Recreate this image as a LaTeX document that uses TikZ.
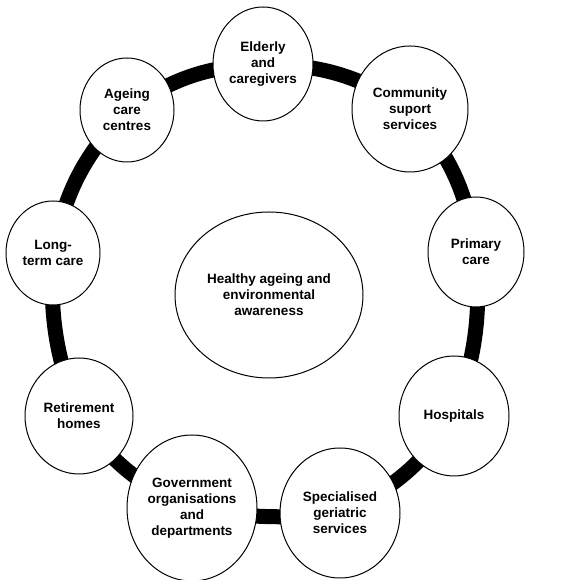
\documentclass[tikz,border=0pt]{standalone}
\usepackage{fontspec}
\setmainfont{Liberation Sans}
\usetikzlibrary{shapes.geometric,backgrounds}

\begin{document}
\begin{tikzpicture}[x=1pt,y=1pt,font=\fontsize{13.5}{16}\selectfont\bfseries,
		hub/.style={ellipse,draw,line width=1pt,fill=white,align=center,inner sep=0pt},
		ring/.style={line width=15pt}]
				\useasboundingbox (0,0) rectangle (584,580);
				\node[hub,minimum width=188,minimum height=166] (core) at (269,285) {Healthy ageing and\\environmental\\awareness};
				\node[hub,minimum width=100,minimum height=114] (eld) at (263,516) {Elderly\\and\\caregivers};
				\node[hub,minimum width=116,minimum height=126] (com) at (410,471) {Community\\suport\\services};
				\node[hub,minimum width=96,minimum height=110] (pri) at (476,328) {Primary\\care};
				\node[hub,minimum width=110,minimum height=120] (hos) at (454,164) {Hospitals};
				\node[hub,minimum width=120,minimum height=130] (spe) at (340,67) {Specialised\\geriatric\\services};
				\node[hub,minimum width=130,minimum height=146] (gov) at (192,72) {Government\\organisations\\and\\departments};
				\node[hub,minimum width=108,minimum height=116] (ret) at (79,164) {Retirement\\homes};
				\node[hub,minimum width=94,minimum height=104] (lon) at (53,327) {Long-\\term care};
				\node[hub,minimum width=94,minimum height=104] (age) at (127,470) {Ageing\\care\\centres};
				\begin{scope}[on background layer]
				\draw[ring] (eld.center) to[bend left=16] (com.center) to[bend left=16] (pri.center)
					to[bend left=12] (hos.center) to[bend left=16] (spe.center) to[bend left=8] (gov.center)
					to[bend left=16] (ret.center) to[bend left=12] (lon.center) to[bend left=16] (age.center)
					to[bend left=16] (eld.center);
				\end{scope}
		\end{tikzpicture}
\end{document}
